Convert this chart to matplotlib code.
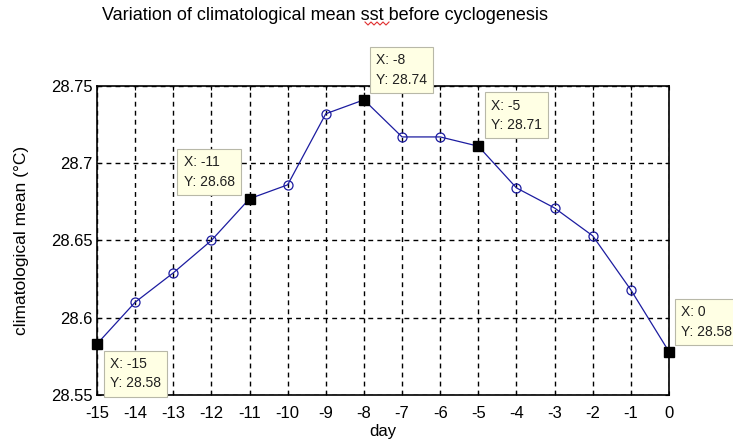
import matplotlib
matplotlib.use('Agg')
import matplotlib.pyplot as plt
from matplotlib.ticker import FormatStrFormatter
from matplotlib.lines import Line2D

plt.rcParams['font.family'] = ['Liberation Sans', 'DejaVu Sans']
plt.rcParams['axes.unicode_minus'] = False

# data
days = [-15, -14, -13, -12, -11, -10, -9, -8, -7, -6, -5, -4, -3, -2, -1, 0]
sst = [28.583, 28.610, 28.629, 28.650, 28.677, 28.686, 28.732, 28.741,
       28.717, 28.717, 28.711, 28.684, 28.671, 28.653, 28.618, 28.578]

# data tips (marked with black squares)
tip_days = [-15, -11, -8, -5, 0]
tip_vals = [28.58, 28.68, 28.74, 28.71, 28.58]
# offset (pixels) and anchor of each tip box
tip_pos = [(13, -13, 'left', 'top'),
           (-15, 10, 'right', 'bottom'),
           (12, 13, 'left', 'bottom'),
           (13, 14, 'left', 'bottom'),
           (12, 13, 'left', 'bottom')]

fig = plt.figure(figsize=(7.33, 4.43), dpi=100)
ax = fig.add_axes([0.1323, 0.1084, 0.7804, 0.6976])

ax.plot(days, sst, '-o', color='#1c1ca0', lw=0.9, markersize=6.5,
        markerfacecolor='none', markeredgewidth=0.9, zorder=3)

tip_y = [sst[days.index(d)] for d in tip_days]
ax.plot(tip_days, tip_y, 's', color='black', markersize=6.5, zorder=4,
        clip_on=False)

for d, v, yv, (dx, dy, ha, va) in zip(tip_days, tip_vals, tip_y, tip_pos):
    ax.annotate('X: %d\nY: %.2f' % (d, v), xy=(d, yv), xytext=(dx, dy),
                textcoords='offset pixels', ha=ha, va=va, fontsize=10,
                multialignment='left',
                linespacing=1.5, color='#202020', annotation_clip=False,
                zorder=5,
                bbox=dict(boxstyle='square,pad=0.45', fc='#ffffe4',
                          ec='#b8b8a8', lw=0.8))

ax.set_xlim(-15, 0)
ax.set_ylim(28.55, 28.75)
ax.set_xticks(days)
ax.set_yticks([28.55, 28.6, 28.65, 28.7, 28.75])
ax.yaxis.set_major_formatter(FormatStrFormatter('%g'))
ax.grid(True, color='black', linestyle=(0, (3.5, 3)), lw=1.0)
ax.tick_params(direction='in', length=3, labelsize=12, colors='black',
               top=True, right=True)
ax.tick_params(axis='x', pad=8)
ax.tick_params(axis='y', pad=3)
for s in ax.spines.values():
    s.set_linewidth(1.2)

ax.set_xlabel('day', fontsize=12, labelpad=2)
ax.set_ylabel('climatological mean (\u00b0C)', fontsize=12.5, labelpad=16)
fig.text(0.443, 0.964, 'Variation of climatological mean sst before cyclogenesis',
         ha='center', va='center', fontsize=13)

# red spell-check squiggle under "sst"
zx = [365, 368, 371, 374, 377, 380, 383, 386, 389]
zy = [22, 25, 22, 25, 22, 25, 22, 25, 22]
fig.add_artist(Line2D([x / 733 for x in zx], [1 - y / 443 for y in zy],
                      transform=fig.transFigure, color='#e03030', lw=0.8))

fig.savefig('out.png', dpi=100)
